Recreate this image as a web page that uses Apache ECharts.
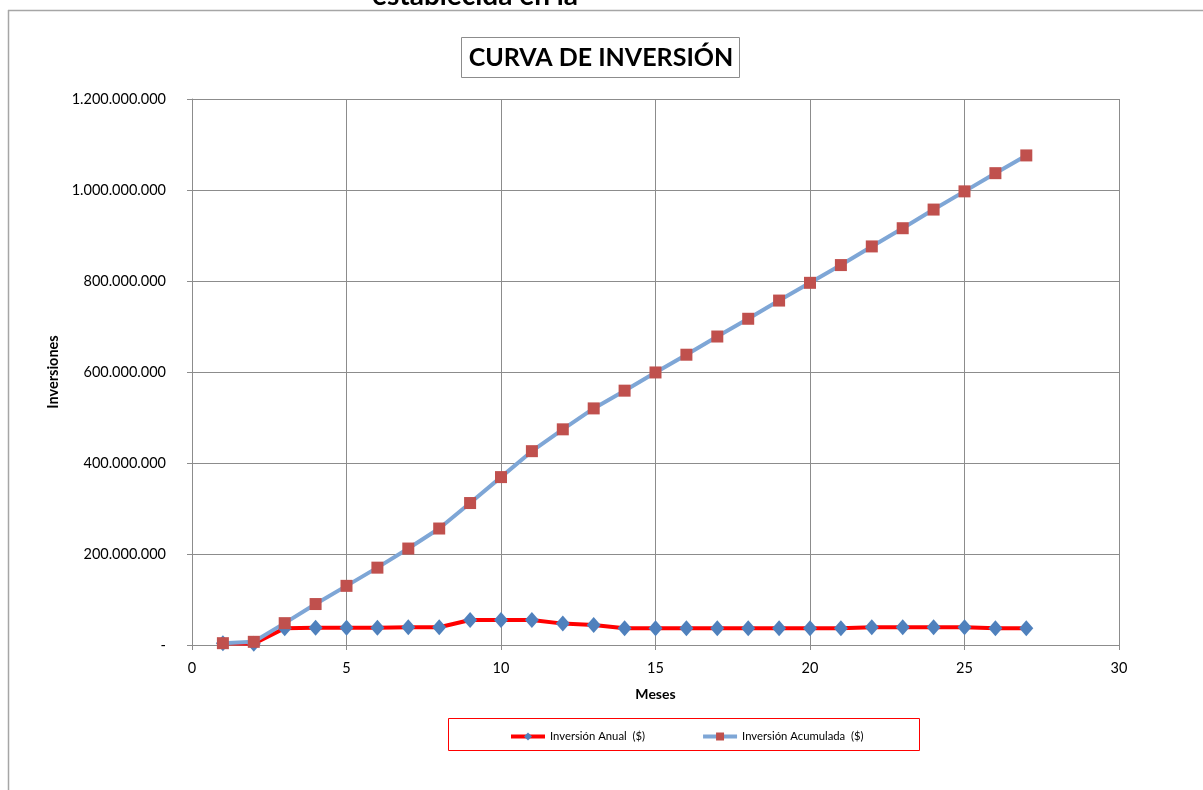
<!DOCTYPE html>
<html>
<head>
<meta charset="utf-8">
<script src="https://cdn.jsdelivr.net/npm/echarts@6/dist/echarts.min.js"></script>
<style>
html,body{margin:0;padding:0;background:#fff;}
#chart{width:1203px;height:790px;}
</style>
</head>
<body>
<div id="chart"></div>
<script>
const meses = [1,2,3,4,5,6,7,8,9,10,11,12,13,14,15,16,17,18,19,20,21,22,23,24,25,26,27];
const inversionAnual = [4,3,37,38,38,38,39,39,55,55,55,47,44,37,37,37,37,37,37,37,37,39,39,39,39,37,37]; // millions
const inversionAcumulada = [4,7,48,90,130,170,212,256,312,369,426,474,520,559,599,638,678,717,757,796,835,876,916,957,997,1037,1076]; // millions
const yTicks = [0,200000000,400000000,600000000,800000000,1000000000,1200000000];
const xTicks = [0,5,10,15,20,25,30];
const serieNames = ['Inversión Anual  ($)','Inversión Acumulada  ($)'];

const M = 1000000;
const anualData = meses.map((m,i)=>[m, inversionAnual[i]*M]);
const acumData = meses.map((m,i)=>[m, inversionAcumulada[i]*M]);

function fmt(v){
  if (v === 0) return '-';
  return String(Math.round(v)).replace(/\B(?=(\d{3})+(?!\d))/g,'.');
}
const FONT = 'Lato, "Open Sans", sans-serif';

const chart = echarts.init(document.getElementById('chart'));
chart.setOption({
  animation:false,
  backgroundColor:'#fff',
  textStyle:{fontFamily:FONT},
  grid:{left:192, right:84, top:99, bottom:145, containLabel:false},
  xAxis:{
    type:'value', min:xTicks[0], max:xTicks[xTicks.length-1], interval:5,
    name:'Meses', nameLocation:'middle', nameGap:42,
    nameTextStyle:{fontFamily:FONT, fontWeight:'bold', fontSize:14, color:'#000'},
    axisLine:{show:true, lineStyle:{color:'#8c8c8c', width:1}},
    axisTick:{show:true, length:5, inside:false, lineStyle:{color:'#8c8c8c'}},
    axisLabel:{fontFamily:FONT, fontSize:14.5, color:'#000', margin:16},
    splitLine:{show:true, lineStyle:{color:'#8c8c8c', width:1}}
  },
  yAxis:{
    type:'value', min:yTicks[0], max:yTicks[yTicks.length-1], interval:200000000,
    name:'Inversiones', nameLocation:'middle', nameGap:131, nameRotate:90,
    nameTextStyle:{fontFamily:FONT, fontWeight:'bold', fontSize:14.5, color:'#000'},
    axisLine:{show:true, lineStyle:{color:'#8c8c8c', width:1}},
    axisTick:{show:true, length:5, lineStyle:{color:'#8c8c8c'}},
    axisLabel:{fontFamily:FONT, fontSize:14.5, color:'#000', margin:26, formatter:fmt},
    splitLine:{show:true, lineStyle:{color:'#8c8c8c', width:1}}
  },
  legend:{
    show:true,
    left:504, top:726,
    data:[
      {name:serieNames[0], lineStyle:{width:4}},
      {name:serieNames[1], lineStyle:{width:4}}
    ],
    itemWidth:34, itemHeight:10, itemGap:56,
    textStyle:{fontFamily:FONT, fontSize:11.3, color:'#000'}
  },
  graphic:[
    {type:'line', shape:{x1:8,y1:10.5,x2:1203,y2:10.5}, style:{stroke:'#a6a6a6', lineWidth:1.5}, silent:true},
    {type:'line', shape:{x1:8.5,y1:10,x2:8.5,y2:790}, style:{stroke:'#a6a6a6', lineWidth:1.5}, silent:true},
    {type:'text', x:475, y:10, style:{text:'establecida en la', font:'bold 28px '+FONT, fill:'#000', align:'center', verticalAlign:'bottom'}, silent:true, z:10},
    {type:'rect', shape:{x:461.5,y:37.5,width:278,height:40}, style:{fill:'#fff', stroke:'#8c8c8c', lineWidth:1}, silent:true},
    {type:'text', x:601, y:58, style:{text:'CURVA DE INVERSIÓN', font:'bold 25px '+FONT, fill:'#000', align:'center', verticalAlign:'middle'}, silent:true},
    {type:'rect', shape:{x:448.5,y:718.5,width:471,height:32}, style:{fill:'none', stroke:'#ff0000', lineWidth:1}, silent:true}
  ],
  series:[
    {
      name:serieNames[0], type:'line', data:anualData,
      lineStyle:{color:'#ff0000', width:4},
      itemStyle:{color:'#4f81bd'},
      symbol:'diamond', symbolSize:[14,16],
      z:2
    },
    {
      name:serieNames[1], type:'line', data:acumData,
      lineStyle:{color:'#7ea6d6', width:4},
      itemStyle:{color:'#c0504d'},
      symbol:'rect', symbolSize:12,
      z:3
    }
  ]
});
</script>
</body>
</html>
